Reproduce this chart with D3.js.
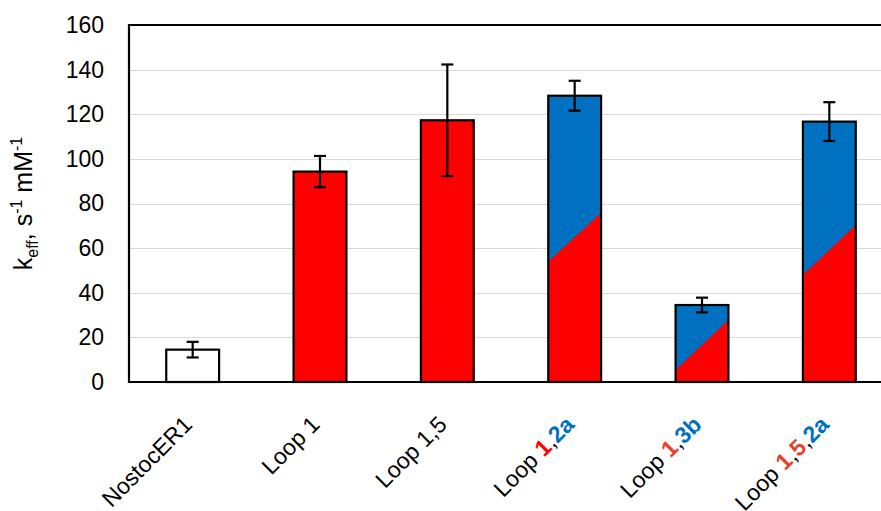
<!DOCTYPE html>
<html>
<head>
<meta charset="utf-8">
<script src="https://cdn.jsdelivr.net/npm/d3@7"></script>
<style>
  body { margin: 0; background: #fff; }
  text { font-family: "Liberation Sans", Arial, sans-serif; fill: #000; }
</style>
</head>
<body>
<div class="container"></div>
<script>
const categories = ['NostocER1', 'Loop 1', 'Loop 1,5', 'Loop 1,2a', 'Loop 1,3b', 'Loop 1,5,2a'];
const values = [14.5, 94.3, 117.3, 128.3, 34.5, 116.7];
const errors = [3.5, 7, 25, 6.7, 3.3, 8.7];
// red part of each bar: value at left edge and right edge (null = plain white bar)
const splitLeft = [null, 94.3, 117.3, 54, 5.4, 48];
const splitRight = [null, 94.3, 117.3, 75.7, 27.8, 70.4];
const yTicks = [0, 20, 40, 60, 80, 100, 120, 140, 160];
// label pieces: [text, kind]
const labelParts = [
  [['NostocER1', 'n']],
  [['Loop 1', 'n']],
  [['Loop 1,5', 'n']],
  [['Loop ', 'n'], ['1', 'r'], [',', 'n'], ['2a', 'b']],
  [['Loop ', 'n'], ['1', 'o'], [',', 'n'], ['3b', 'b']],
  [['Loop ', 'n'], ['1', 'o'], [',', 'n'], ['5', 'o'], [',', 'n'], ['2a', 'b']]
];

const width = 881;
const height = 511;
const margin = {left: 129, top: 25, bottom: 129};
const plotW = 764;
const red = '#ff0000';
const blue = '#0070c0';
const kindColor = {n: '#000', r: '#ff0000', o: '#e8402a', b: '#0070c0'};

const svg = d3.select('.container')
  .append('svg')
  .attr('width', width)
  .attr('height', height);

const x = d3.scaleBand()
  .domain(categories)
  .range([margin.left, margin.left + plotW])
  .paddingInner(0.585)
  .paddingOuter(0.2925);

const y = d3.scaleLinear()
  .domain([0, 160])
  .range([height - margin.bottom, margin.top]);

// gridlines
svg.append('g')
  .selectAll('line')
  .data(yTicks.filter(d => d > 0 && d < 160))
  .enter()
  .append('line')
  .attr('x1', margin.left)
  .attr('x2', margin.left + plotW)
  .attr('y1', d => Math.round(y(d)) + 0.5)
  .attr('y2', d => Math.round(y(d)) + 0.5)
  .attr('stroke', '#d9d9d9')
  .attr('stroke-width', 1);

// y axis labels
const yAxis = svg.append('g')
  .attr('transform', `translate(${margin.left},0)`)
  .call(d3.axisLeft(y).tickValues(yTicks).tickSize(0).tickPadding(25));
yAxis.select('.domain').remove();
yAxis.selectAll('text')
  .style('font-size', '23px')
  .style('font-family', '"Liberation Sans", Arial, sans-serif');

// bars
const bars = svg.append('g')
  .selectAll('g')
  .data(categories)
  .enter()
  .append('g');

bars.each(function(c, i) {
  const g = d3.select(this);
  const x0 = x(c);
  const x1 = x(c) + x.bandwidth();
  if (splitLeft[i] === null) {
    g.append('rect')
      .attr('x', x0).attr('y', y(values[i]))
      .attr('width', x.bandwidth()).attr('height', y(0) - y(values[i]))
      .attr('fill', '#fff');
  } else {
    g.append('rect')
      .attr('x', x0).attr('y', y(values[i]))
      .attr('width', x.bandwidth()).attr('height', y(0) - y(values[i]))
      .attr('fill', blue);
    g.append('polygon')
      .attr('points', [[x0, y(0)], [x0, y(splitLeft[i])], [x1, y(splitRight[i])], [x1, y(0)]].join(' '))
      .attr('fill', red);
  }
  g.append('rect')
    .attr('x', x0).attr('y', y(values[i]))
    .attr('width', x.bandwidth()).attr('height', y(0) - y(values[i]))
    .attr('fill', 'none')
    .attr('stroke', '#000')
    .attr('stroke-width', 2.2);
});

// error bars
const eb = svg.append('g')
  .attr('stroke', '#000')
  .attr('stroke-width', 2.2);
categories.forEach((c, i) => {
  const cx = x(c) + x.bandwidth() / 2;
  const hi = y(values[i] + errors[i]);
  const lo = y(values[i] - errors[i]);
  eb.append('line').attr('x1', cx).attr('x2', cx).attr('y1', hi).attr('y2', lo);
  eb.append('line').attr('x1', cx - 6).attr('x2', cx + 6).attr('y1', hi).attr('y2', hi);
  eb.append('line').attr('x1', cx - 6).attr('x2', cx + 6).attr('y1', lo).attr('y2', lo);
});

// plot frame: left, top, bottom
svg.append('path')
  .attr('d', `M${margin.left + plotW},${y(160)}H${margin.left}V${y(0)}H${margin.left + plotW}`)
  .attr('fill', 'none')
  .attr('stroke', '#000')
  .attr('stroke-width', 2.2);

// x labels
svg.append('g')
  .selectAll('text')
  .data(categories)
  .enter()
  .append('text')
  .attr('transform', c => `translate(${x(c) + x.bandwidth() / 2 + 1},${y(0) + 44}) rotate(-45)`)
  .attr('text-anchor', 'end')
  .style('font-size', '23px')
  .each(function(c, i) {
    const t = d3.select(this);
    labelParts[i].forEach(p => {
      t.append('tspan')
        .text(p[0])
        .style('fill', kindColor[p[1]])
        .style('font-weight', p[1] === 'n' ? 'normal' : 'bold');
    });
  });

// y title
const yt = svg.append('text')
  .attr('transform', `translate(32,${(y(0) + y(160)) / 2}) rotate(-90)`)
  .attr('text-anchor', 'middle')
  .style('font-size', '25px');
yt.append('tspan').text('k');
yt.append('tspan').text('eff').style('font-size', '16px').attr('dy', 6);
yt.append('tspan').text(',  s').attr('dy', -6);
yt.append('tspan').text('-1').style('font-size', '16px').attr('dy', -10);
yt.append('tspan').text('  mM').attr('dy', 10);
yt.append('tspan').text('-1').style('font-size', '16px').attr('dy', -10);
</script>
</body>
</html>
